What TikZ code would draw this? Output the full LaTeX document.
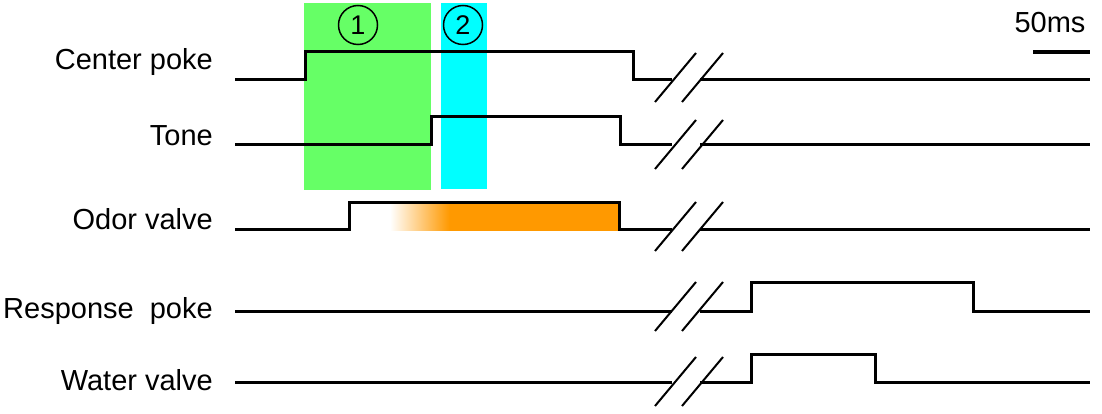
\documentclass[tikz,border=0pt]{standalone}
\usepackage{fontspec}
\setmainfont{Liberation Sans}
\definecolor{grn}{HTML}{66FF66}
\definecolor{cyn}{HTML}{00FFFF}
\definecolor{org}{HTML}{FF9900}
\pgfdeclarehorizontalshading{odorfade}{100bp}{color(0bp)=(white); color(25bp)=(white); color(38bp)=(org); color(100bp)=(org)}
\begin{document}
\begin{tikzpicture}[x=1pt,y=-1pt,
  sig/.style={line width=3pt,line join=miter,line cap=butt},
  brk/.style={line width=2pt},
  lbl/.style={anchor=base east,inner sep=0pt,font=\fontsize{29}{31}\selectfont},
  num/.style={circle,draw,line width=1.5pt,minimum size=39pt,inner sep=0pt,font=\fontsize{27}{29}\selectfont}]
\useasboundingbox (0,0) rectangle (1102,414);
% shaded windows
\fill[grn] (304,3) rectangle (431,190);
\fill[cyn] (441,3) rectangle (487,189);
\node[num] (n1) at (358,25) {1};
\node[num] (n2) at (463,25) {2};
% odor fill
\shade[shading=odorfade] (390,203) rectangle (619,230);
% labels
\node[lbl] (l1) at (213,70) {Center poke};
\node[lbl] (l2) at (213,146) {Tone};
\node[lbl] (l3) at (213,229) {Odor valve};
\node[lbl] (l4) at (213,318) {Response\ \ poke};
\node[lbl] (l5) at (213,390) {Water valve};
% signals
\draw[sig] (235,80) -- (305,80) -- (305,52) -- (633,52) -- (633,80) -- (672,80);
\draw[sig] (700,80) -- (1090,80);
\draw[sig] (235,145) -- (431,145) -- (431,117) -- (620,117) -- (620,145) -- (672,145);
\draw[sig] (700,145) -- (1090,145);
\draw[sig] (235,229) -- (349,229) -- (349,202) -- (619,202) -- (619,229) -- (672,229);
\draw[sig] (700,229) -- (1090,229);
\draw[sig] (235,311) -- (672,311);
\draw[sig] (700,311) -- (751,311) -- (751,282) -- (973,282) -- (973,311) -- (1090,311);
\draw[sig] (235,382) -- (672,382);
\draw[sig] (700,382) -- (751,382) -- (751,354) -- (875,354) -- (875,382) -- (1090,382);
% breaks
\foreach \y in {80,147,229,309,384}{
  \draw[brk] (655,\y+22) -- (696,\y-27);
  \draw[brk] (682,\y+22) -- (723,\y-27);
}
% scale bar
\node[anchor=base,inner sep=0pt,font=\fontsize{29}{31}\selectfont] (sc) at (1050,33) {50ms};
\draw[line width=4pt] (1033,52) -- (1090,52);
\end{tikzpicture}
\end{document}
